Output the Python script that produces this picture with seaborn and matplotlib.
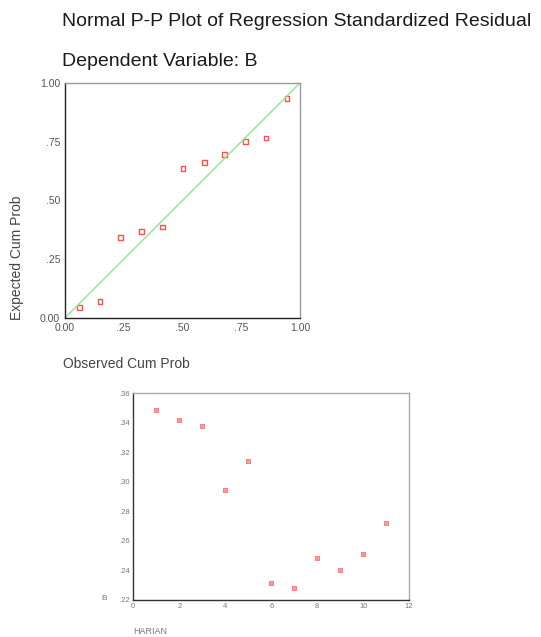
#!/usr/bin/env python3
import matplotlib
matplotlib.use("Agg")
import matplotlib.pyplot as plt
import seaborn as sns
import pandas as pd

# P-P plot values
observed_cum = [0.061, 0.150, 0.237, 0.326, 0.414, 0.503, 0.593, 0.679, 0.768, 0.855, 0.944]
expected_cum = [0.045, 0.071, 0.343, 0.369, 0.387, 0.637, 0.662, 0.696, 0.752, 0.766, 0.933]
ref_line = [0.0, 1.0]
pp_ticks = [0.0, 0.25, 0.5, 0.75, 1.0]
pp_ticklabels = ["0.00", ".25", ".50", ".75", "1.00"]

# scatter of B against HARIAN
harian = [1, 2, 3, 4, 5, 6, 7, 8, 9, 10, 11]
b_vals = [0.3485, 0.3421, 0.3376, 0.2942, 0.3143, 0.2313, 0.2277, 0.2480, 0.2403, 0.2510, 0.2722]
b_ticks = [0.22, 0.24, 0.26, 0.28, 0.30, 0.32, 0.34, 0.36]
b_ticklabels = [".22", ".24", ".26", ".28", ".30", ".32", ".34", ".36"]
h_ticks = [0, 2, 4, 6, 8, 10, 12]

pp = pd.DataFrame({"obs": observed_cum, "exp": expected_cum})
diag = pd.DataFrame({"x": ref_line, "y": ref_line})
sc = pd.DataFrame({"HARIAN": harian, "B": b_vals})

sns.set_style("white")
plt.rcParams["font.family"] = ["Liberation Sans", "DejaVu Sans"]

fig = plt.figure(figsize=(5.41, 6.37), dpi=100)

fig.text(0.114, 0.967, "Normal P-P Plot of Regression Standardized Residual",
         fontsize=14, color="#1a1a1a", va="center")
fig.text(0.114, 0.903, "Dependent Variable: B",
         fontsize=14, color="#1a1a1a", va="center")

# top P-P plot
ax1 = fig.add_axes([0.120, 0.5008, 0.4345, 0.3689])
sns.lineplot(data=diag, x="x", y="y", ax=ax1, color="#8ce88c", linewidth=1.0)
sns.scatterplot(data=pp, x="obs", y="exp", ax=ax1, marker="s", s=11,
                facecolor="none", edgecolor="#ff5050", linewidth=1.0)
ax1.set_xlim(0, 1)
ax1.set_ylim(0, 1)
ax1.set_xticks(pp_ticks)
ax1.set_xticklabels(pp_ticklabels)
ax1.set_yticks(pp_ticks)
ax1.set_yticklabels(pp_ticklabels)
ax1.tick_params(axis="both", labelsize=7.5, length=2, width=1, pad=1.5,
                direction="out", colors="#222222", labelcolor="#555555")
ax1.set_xlabel("")
ax1.set_ylabel("")
for side in ["top", "right"]:
    ax1.spines[side].set_color("#999999")
for side in ["left", "bottom"]:
    ax1.spines[side].set_color("#222222")
for sp in ax1.spines.values():
    sp.set_linewidth(1.0)
# SPSS puts the axis titles at the start of the axis
fig.text(0.032, 0.497, "Expected Cum Prob", fontsize=10, color="#444444",
         rotation=90, ha="center", va="bottom")
fig.text(0.117, 0.428, "Observed Cum Prob", fontsize=10, color="#444444", va="center")

# bottom scatter
ax2 = fig.add_axes([0.2464, 0.0581, 0.510, 0.3254])
sns.scatterplot(data=sc, x="HARIAN", y="B", ax=ax2, marker="s", s=12,
                color="#ff9a9a", edgecolor="#ff7070", linewidth=0.6)
ax2.set_xlim(0, 12)
ax2.set_ylim(0.2197, 0.3603)
ax2.set_xticks(h_ticks)
ax2.set_yticks(b_ticks)
ax2.set_yticklabels(b_ticklabels)
ax2.tick_params(axis="both", labelsize=5.5, length=1.5, width=1, pad=1,
                direction="out", colors="#222222", labelcolor="#777777")
ax2.set_xlabel("")
ax2.set_ylabel("")
for side in ["top", "right"]:
    ax2.spines[side].set_color("#aaaaaa")
for side in ["left", "bottom"]:
    ax2.spines[side].set_color("#333333")
for sp in ax2.spines.values():
    sp.set_linewidth(1.0)
fig.text(0.188, 0.060, "B", fontsize=6, color="#777777", va="center")
fig.text(0.246, 0.009, "HARIAN", fontsize=6.5, color="#777777", va="center")

fig.savefig("out.png", dpi=100)
